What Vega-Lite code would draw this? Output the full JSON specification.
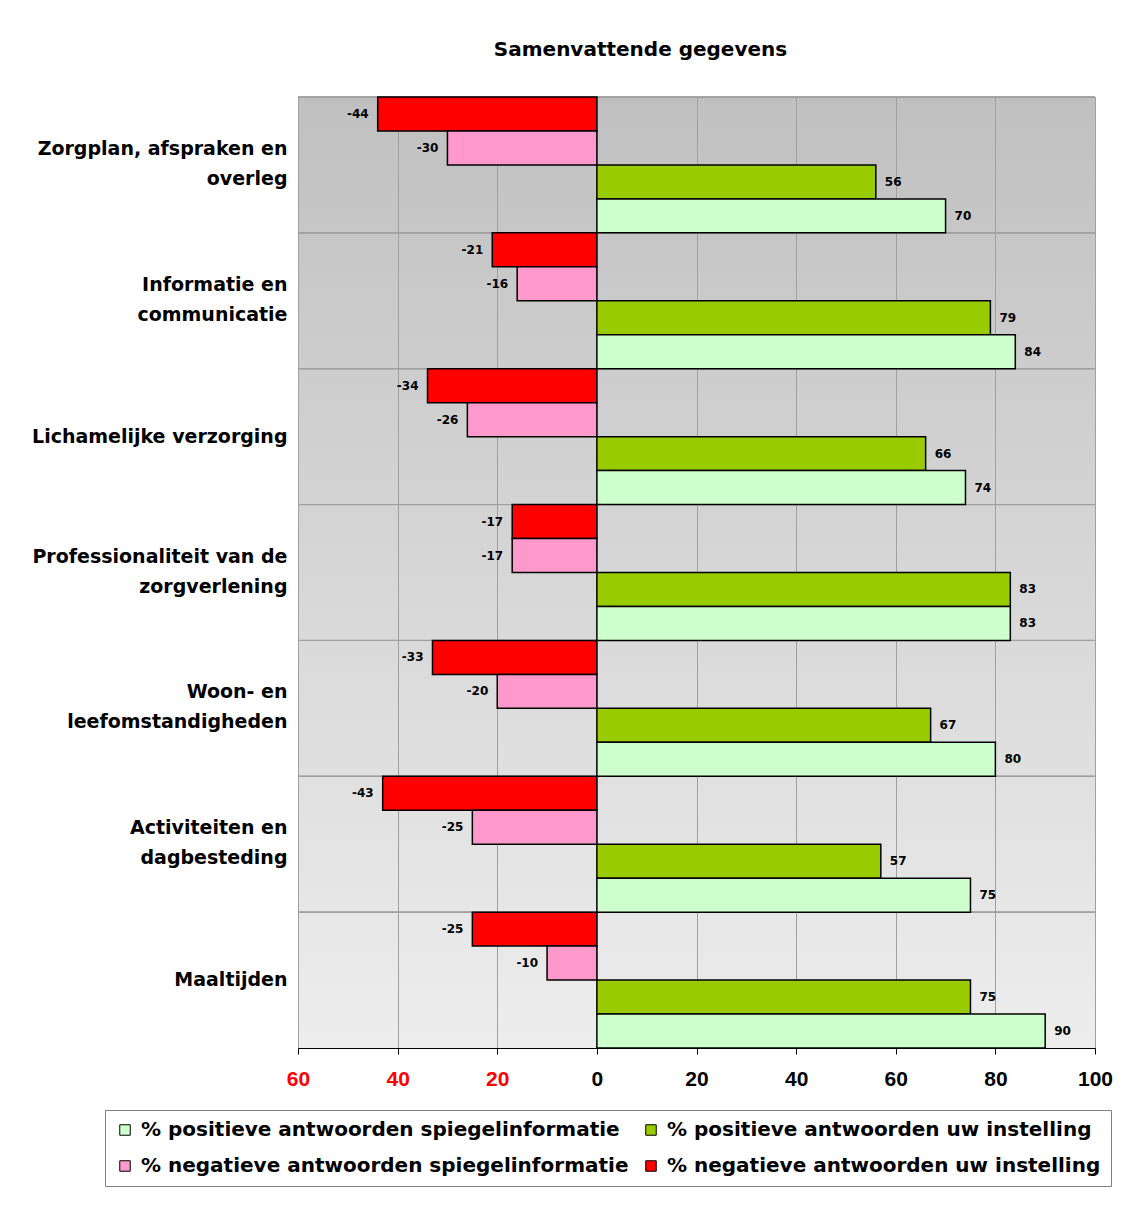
{
  "$schema": "https://vega.github.io/schema/vega-lite/v6.json",
  "width": 797,
  "height": 951,
  "autosize": {"type": "none"},
  "padding": {"left": 298, "top": 97, "right": 27, "bottom": 165},
  "background": "white",
  "title": {
    "text": "Samenvattende gegevens",
    "font": "DejaVu Sans",
    "fontSize": 20,
    "fontWeight": "bold",
    "anchor": "middle",
    "frame": "group",
    "dx": -56,
    "offset": 36,
    "color": "black"
  },
  "config": {
    "view": {
      "fill": {"gradient": "linear", "x1": 0, "y1": 0, "x2": 0, "y2": 1, "stops": [{"offset": 0, "color": "#c0c0c0"}, {"offset": 1, "color": "#ededed"}]},
      "stroke": "#808080",
      "strokeWidth": 1
    },
    "font": "DejaVu Sans"
  },
  "data": {
    "values": [
      {"cat": "Zorgplan, afspraken en overleg", "series": "% negatieve antwoorden uw instelling", "value": -44},
      {"cat": "Zorgplan, afspraken en overleg", "series": "% negatieve antwoorden spiegelinformatie", "value": -30},
      {"cat": "Zorgplan, afspraken en overleg", "series": "% positieve antwoorden uw instelling", "value": 56},
      {"cat": "Zorgplan, afspraken en overleg", "series": "% positieve antwoorden spiegelinformatie", "value": 70},
      {"cat": "Informatie en communicatie", "series": "% negatieve antwoorden uw instelling", "value": -21},
      {"cat": "Informatie en communicatie", "series": "% negatieve antwoorden spiegelinformatie", "value": -16},
      {"cat": "Informatie en communicatie", "series": "% positieve antwoorden uw instelling", "value": 79},
      {"cat": "Informatie en communicatie", "series": "% positieve antwoorden spiegelinformatie", "value": 84},
      {"cat": "Lichamelijke verzorging", "series": "% negatieve antwoorden uw instelling", "value": -34},
      {"cat": "Lichamelijke verzorging", "series": "% negatieve antwoorden spiegelinformatie", "value": -26},
      {"cat": "Lichamelijke verzorging", "series": "% positieve antwoorden uw instelling", "value": 66},
      {"cat": "Lichamelijke verzorging", "series": "% positieve antwoorden spiegelinformatie", "value": 74},
      {"cat": "Professionaliteit van de zorgverlening", "series": "% negatieve antwoorden uw instelling", "value": -17},
      {"cat": "Professionaliteit van de zorgverlening", "series": "% negatieve antwoorden spiegelinformatie", "value": -17},
      {"cat": "Professionaliteit van de zorgverlening", "series": "% positieve antwoorden uw instelling", "value": 83},
      {"cat": "Professionaliteit van de zorgverlening", "series": "% positieve antwoorden spiegelinformatie", "value": 83},
      {"cat": "Woon- en leefomstandigheden", "series": "% negatieve antwoorden uw instelling", "value": -33},
      {"cat": "Woon- en leefomstandigheden", "series": "% negatieve antwoorden spiegelinformatie", "value": -20},
      {"cat": "Woon- en leefomstandigheden", "series": "% positieve antwoorden uw instelling", "value": 67},
      {"cat": "Woon- en leefomstandigheden", "series": "% positieve antwoorden spiegelinformatie", "value": 80},
      {"cat": "Activiteiten en dagbesteding", "series": "% negatieve antwoorden uw instelling", "value": -43},
      {"cat": "Activiteiten en dagbesteding", "series": "% negatieve antwoorden spiegelinformatie", "value": -25},
      {"cat": "Activiteiten en dagbesteding", "series": "% positieve antwoorden uw instelling", "value": 57},
      {"cat": "Activiteiten en dagbesteding", "series": "% positieve antwoorden spiegelinformatie", "value": 75},
      {"cat": "Maaltijden", "series": "% negatieve antwoorden uw instelling", "value": -25},
      {"cat": "Maaltijden", "series": "% negatieve antwoorden spiegelinformatie", "value": -10},
      {"cat": "Maaltijden", "series": "% positieve antwoorden uw instelling", "value": 75},
      {"cat": "Maaltijden", "series": "% positieve antwoorden spiegelinformatie", "value": 90}
    ]
  },
  "encoding": {
    "y": {
      "field": "cat",
      "type": "nominal",
      "sort": null,
      "scale": {"paddingInner": 0, "paddingOuter": 0},
      "axis": {
        "title": null,
        "ticks": false,
        "domain": false,
        "grid": false,
        "labelFont": "DejaVu Sans",
        "labelFontSize": 19,
        "labelFontWeight": "bold",
        "labelColor": "black",
        "labelPadding": 11,
        "labelLimit": 0,
        "labelLineHeight": 30,
        "labelOffset": {"condition": {"test": "datum.value == 'Lichamelijke verzorging' || datum.value == 'Maaltijden'", "value": 0}, "value": -16},
        "labelExpr": "datum.label == 'Zorgplan, afspraken en overleg' ? ['Zorgplan, afspraken en', 'overleg'] : datum.label == 'Informatie en communicatie' ? ['Informatie en', 'communicatie'] : datum.label == 'Professionaliteit van de zorgverlening' ? ['Professionaliteit van de', 'zorgverlening'] : datum.label == 'Woon- en leefomstandigheden' ? ['Woon- en', 'leefomstandigheden'] : datum.label == 'Activiteiten en dagbesteding' ? ['Activiteiten en', 'dagbesteding'] : datum.label"
      }
    }
  },
  "layer": [
    {
      "mark": {"type": "rule", "color": "#a0a0a0", "strokeWidth": 1},
      "encoding": {
        "y": {"field": "cat", "type": "nominal", "sort": null, "bandPosition": 0}
      }
    },
    {
      "mark": {"type": "bar", "stroke": "black", "strokeWidth": 1.5, "opacity": 1},
      "encoding": {
        "x": {
          "field": "value",
          "type": "quantitative",
          "scale": {"domain": [-60, 100], "nice": false, "zero": false},
          "axis": {
            "title": null,
            "values": [-60, -40, -20, 0, 20, 40, 60, 80, 100],
            "labelExpr": "'' + abs(datum.value)",
            "labelFont": "Liberation Sans",
            "labelFontSize": 21,
            "labelFontWeight": "bold",
            "labelFlush": false,
            "labelColor": {"condition": {"test": "datum.value < 0", "value": "#ff0000"}, "value": "black"},
            "labelPadding": 14,
            "grid": true,
            "gridColor": "#a0a0a0",
            "gridWidth": 1,
            "domainColor": "black",
            "domainWidth": 1,
            "tickColor": "black",
            "tickSize": 6
          }
        },
        "yOffset": {
          "field": "series",
          "type": "nominal",
          "sort": ["% negatieve antwoorden uw instelling", "% negatieve antwoorden spiegelinformatie", "% positieve antwoorden uw instelling", "% positieve antwoorden spiegelinformatie"],
          "scale": {"paddingInner": 0, "paddingOuter": 0}
        },
        "color": {
          "field": "series",
          "type": "nominal",
          "scale": {
            "domain": ["% positieve antwoorden spiegelinformatie", "% positieve antwoorden uw instelling", "% negatieve antwoorden spiegelinformatie", "% negatieve antwoorden uw instelling"],
            "range": ["#ccffcc", "#99cc00", "#ff99cc", "#ff0000"]
          },
          "legend": {
            "title": null,
            "orient": "none",
            "legendX": -193,
            "legendY": 1013,
            "columns": 2,
            "direction": "horizontal",
            "symbolType": "square",
            "symbolSize": 110,
            "symbolStrokeColor": "black",
            "symbolStrokeWidth": 1,
            "labelFont": "DejaVu Sans",
            "labelFontSize": 20,
            "labelFontWeight": "bold",
            "labelColor": "black",
            "labelLimit": 0,
            "labelOffset": 6,
            "rowPadding": 16,
            "columnPadding": 12,
            "strokeColor": "#808080",
            "fillColor": "white",
            "padding": 10
          }
        }
      }
    },
    {
      "transform": [{"filter": "datum.value < 0"}],
      "mark": {"type": "text", "align": "right", "baseline": "middle", "dx": -9, "font": "DejaVu Sans", "fontSize": 12, "fontWeight": "bold", "color": "black"},
      "encoding": {
        "x": {"field": "value", "type": "quantitative"},
        "yOffset": {
          "field": "series",
          "type": "nominal",
          "sort": ["% negatieve antwoorden uw instelling", "% negatieve antwoorden spiegelinformatie", "% positieve antwoorden uw instelling", "% positieve antwoorden spiegelinformatie"]
        },
        "text": {"field": "value", "type": "nominal"}
      }
    },
    {
      "transform": [{"filter": "datum.value >= 0"}],
      "mark": {"type": "text", "align": "left", "baseline": "middle", "dx": 9, "font": "DejaVu Sans", "fontSize": 12, "fontWeight": "bold", "color": "black"},
      "encoding": {
        "x": {"field": "value", "type": "quantitative"},
        "yOffset": {
          "field": "series",
          "type": "nominal",
          "sort": ["% negatieve antwoorden uw instelling", "% negatieve antwoorden spiegelinformatie", "% positieve antwoorden uw instelling", "% positieve antwoorden spiegelinformatie"]
        },
        "text": {"field": "value", "type": "nominal"}
      }
    }
  ]
}
